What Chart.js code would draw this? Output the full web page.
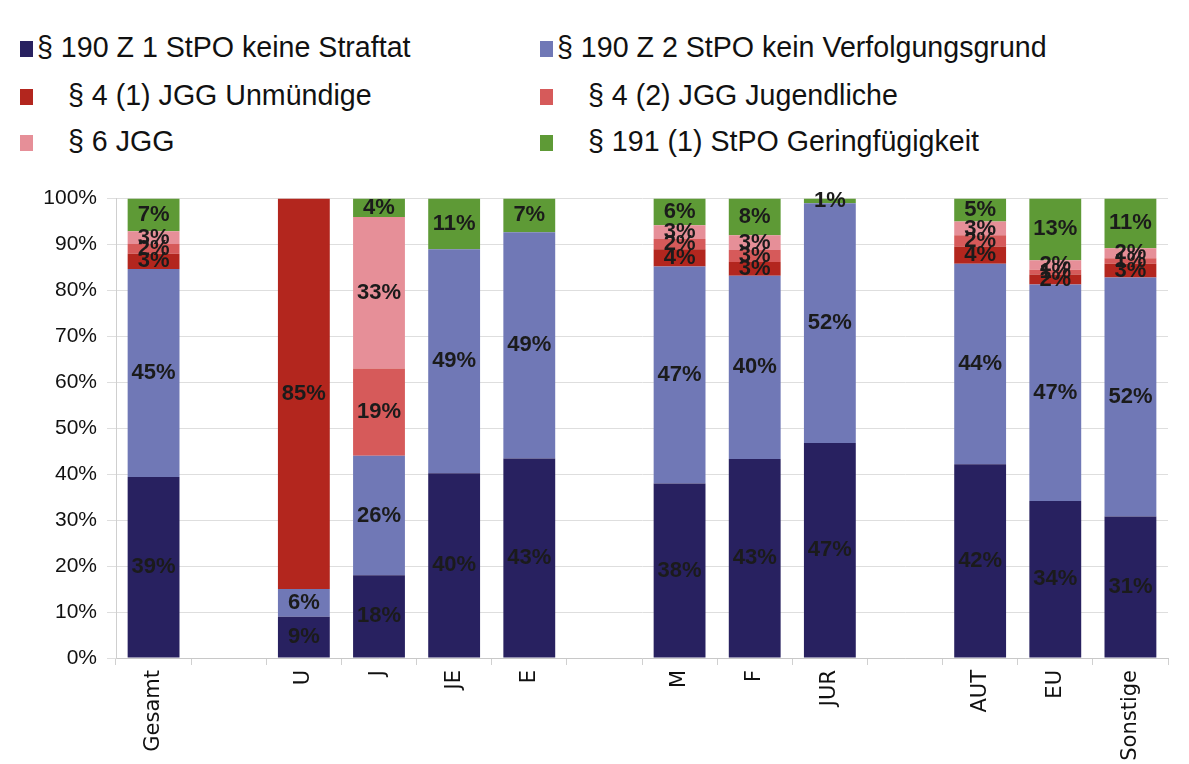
<!DOCTYPE html>
<html><head><meta charset="utf-8">
<script src="https://cdn.jsdelivr.net/npm/chart.js@4/dist/chart.umd.min.js"></script>
<style>
html,body{margin:0;padding:0;background:#fff;width:1189px;height:764px;overflow:hidden;font-family:"Liberation Sans",Arial,sans-serif;}
#legend{position:absolute;left:0;top:0;width:1189px;height:180px;}
.li{position:absolute;font-size:28.6px;color:#111;white-space:nowrap;line-height:30px;}
.li span.box{display:inline-block;width:13px;height:16px;vertical-align:0px;}
#wrap{position:absolute;left:0;top:176px;width:1189px;height:588px;}
</style></head>
<body>
<div id="legend"></div>
<div id="wrap"><canvas id="c"></canvas></div>
<script>
const categories = ["Gesamt","","U","J","JE","E","","M","F","JUR","","AUT","EU","Sonstige"];
const seriesNames = ["§ 190 Z 1 StPO keine Straftat","§ 190 Z 2 StPO kein Verfolgungsgrund","§ 4 (1) JGG Unmündige","§ 4 (2) JGG Jugendliche","§ 6 JGG","§ 191 (1) StPO Geringfügigkeit"];
const seriesColors = ["#282160","#7078b6","#b3261e","#d65a5a","#e68f98","#5e9a36"];
const keineStraftat     = [39.4,null,9,18,40.2,43.4,null,38.0,43.3,46.8,null,42.2,34.2,30.8];
const keinVerfolgung    = [45.3,null,6,26,48.8,49.3,null,47.2,39.9,52.2,null,43.6,47.1,52.0];
const unmuendige        = [3.3,null,85,0,0,0,null,3.8,3.0,0,null,3.8,2.2,3.0];
const jugendliche       = [2.1,null,0,19,0,0,null,2.2,2.6,0,null,2.4,1.0,1.2];
const jgg6              = [2.8,null,0,33,0,0,null,3.0,3.2,0,null,3.0,2.1,2.2];
const geringfuegigkeit  = [7.1,null,0,4,11.0,7.3,null,5.8,8.0,1.0,null,5.0,13.4,10.8];
const yTicks = [0,10,20,30,40,50,60,70,80,90,100];
const seriesData = [keineStraftat,keinVerfolgung,unmuendige,jugendliche,jgg6,geringfuegigkeit];

// HTML legend, two columns
const legendPos = [[20,32,0],[540,32,0],[20,80,45],[540,80,45],[20,126,45],[540,126,45]];
const lg = document.getElementById('legend');
seriesNames.forEach((n,i)=>{
  const d=document.createElement('div');d.className='li';
  d.style.left=legendPos[i][0]+'px';d.style.top=legendPos[i][1]+'px';
  const b=document.createElement('span');b.className='box';b.style.background=seriesColors[i];
  b.style.marginRight=(legendPos[i][2]? (legendPos[i][2]-13+3):4)+'px';
  d.appendChild(b);d.appendChild(document.createTextNode(n));lg.appendChild(d);
});

const labelPlugin = {
  id:'segLabels',
  afterDatasetsDraw(chart){
    const ctx=chart.ctx;ctx.save();
    ctx.font='bold 22px "Liberation Sans", Arial, sans-serif';
    ctx.fillStyle='#1b1b1b';ctx.textAlign='center';ctx.textBaseline='middle';
    chart.data.datasets.forEach((ds,di)=>{
      const meta=chart.getDatasetMeta(di);
      meta.data.forEach((el,i)=>{
        const v=ds.data[i];
        if(v==null||v<=0)return;
        const p=el.getProps(['x','y','base'],true);
        ctx.fillText(Math.round(v)+'%',p.x,(p.y+p.base)/2);
      });
    });
    ctx.restore();
  }
};

new Chart(document.getElementById('c'),{
  type:'bar',
  data:{labels:categories,datasets:seriesData.map((d,i)=>({label:seriesNames[i],data:d,backgroundColor:seriesColors[i],borderWidth:0,barPercentage:0.69,categoryPercentage:1}))},
  options:{
    responsive:true,maintainAspectRatio:false,animation:false,
    layout:{padding:{top:15,right:21,left:0,bottom:0}},
    plugins:{legend:{display:false},tooltip:{enabled:false}},
    scales:{
      x:{stacked:true,
        afterFit(s){s.height=106;},
        grid:{display:true,drawOnChartArea:false,color:'#d0d0d0',tickLength:7},
        border:{color:'#c8c8c8'},
        ticks:{minRotation:90,maxRotation:90,autoSkip:false,color:'#111',font:{family:'"DejaVu Sans", sans-serif',size:21},padding:5}},
      y:{stacked:true,min:0,max:100,
        afterFit(s){s.width=116;},
        afterBuildTicks(s){s.ticks=yTicks.map(v=>({value:v}));},
        grid:{color:'#dedede',tickLength:9},
        border:{color:'#cfcfcf'},
        ticks:{callback:v=>v+'%',color:'#111',font:{family:'"Liberation Sans", Arial, sans-serif',size:21},padding:10}}
    }
  },
  plugins:[labelPlugin]
});
</script>
</body></html>
